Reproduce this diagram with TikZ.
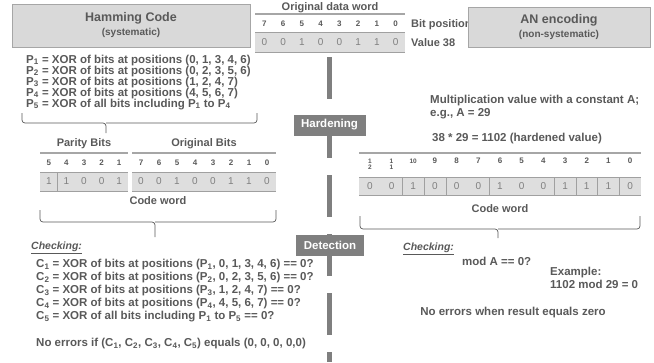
\documentclass[tikz,border=0pt]{standalone}
\usepackage{fontspec}
\setmainfont{Liberation Sans}
\definecolor{ink}{HTML}{595959}
\definecolor{boxfill}{HTML}{D9D9D9}
\definecolor{boxrule}{HTML}{A6A6A6}
\definecolor{barcol}{HTML}{7F7F7F}
\definecolor{cellfill}{HTML}{DEDEDE}
\definecolor{valink}{HTML}{808080}
\definecolor{rulecol}{HTML}{A0A0A0}
\newcommand\fsz[1]{\fontsize{#1}{#1}\selectfont}
\begin{document}
\begin{tikzpicture}[x=1pt,y=-1pt,
  txt/.style={text=ink, inner sep=0pt, font=\fsz{11.5}\bfseries, text height=8pt, text depth=2pt},
  lefttxt/.style={txt, anchor=west},
  hdr/.style={txt, font=\fsz{11}\bfseries},
  tbox/.style={draw=boxrule, fill=boxfill, line width=0.8pt, text=ink, align=center, inner sep=0pt, font=\bfseries},
  bitno/.style={text=ink, inner sep=0pt, font=\fsz{8}\bfseries},
  tinybit/.style={text=ink, inner sep=0pt, font=\fsz{6.5}\bfseries, align=center},
  bitval/.style={text=valink, inner sep=0pt, font=\fsz{10}},
  headrule/.style={draw=boxrule, line width=1.4pt},
  cellrule/.style={draw=rulecol, line width=0.7pt},
  cellsep/.style={draw=rulecol, line width=0.5pt},
  phase/.style={fill=barcol, text=white, font=\fsz{11.5}\bfseries, inner sep=0pt, minimum height=21pt},
  brace/.style={draw=ink, line width=0.7pt, rounded corners=3pt},
  chk/.style={text=ink, inner sep=0pt, anchor=west, font=\fsz{10.5}\bfseries\itshape, text height=8pt, text depth=3pt}
]
\useasboundingbox (0,0) rectangle (654,362);

% ---------- central dashed bar with phase labels ----------
\draw[barcol, line width=5pt, dash pattern=on 42pt off 17pt] (329.5,57) -- (329.5,362);
\node[phase, minimum width=72pt] (harden) at (329.5,125) {Hardening};
\node[phase, minimum width=68pt] (detect) at (330,245) {Detection};

% ---------- original data word ----------
\node[hdr] (odw) at (330,7) {Original data word};
\draw[headrule] (255,14) -- (405,14);
\fill[cellfill] (255,32) rectangle (405,52);
\draw[cellrule] (255,32) -- (405,32);
\draw[cellrule] (255,52) -- (405,52);
\foreach \b [count=\i] in {7,6,5,4,3,2,1,0}
  \node[bitno] (od-h\i) at ({255+18.75*(\i-0.5)},24) {\b};
\foreach \v [count=\i] in {0,0,1,0,0,1,1,0}
  \node[bitval] (od-v\i) at ({255+18.75*(\i-0.5)},42) {\v};
\node[lefttxt, font=\fsz{11}\bfseries] (bitpos) at (411,24) {Bit position};
\node[lefttxt, font=\fsz{11}\bfseries] (val38) at (411,43) {Value 38};

% ---------- title boxes ----------
\node[tbox, minimum width=238pt, minimum height=43pt] (ham) at (131,25.5)
  {{\fsz{12.5}Hamming Code}\\[2pt]{\fsz{10}(systematic)}};
\node[tbox, minimum width=182pt, minimum height=40pt] (an) at (559,27)
  {{\fsz{12.5}AN encoding}\\[2pt]{\fsz{10}(non-systematic)}};

% ---------- Hamming: parity equations ----------
\node[lefttxt] (p1) at (26,60) {P\textsubscript{1} = XOR of bits at positions (0, 1, 3, 4, 6)};
\node[lefttxt] (p2) at (26,71) {P\textsubscript{2} = XOR of bits at positions (0, 2, 3, 5, 6)};
\node[lefttxt] (p3) at (26,82) {P\textsubscript{3} = XOR of bits at positions (1, 2, 4, 7)};
\node[lefttxt] (p4) at (26,93) {P\textsubscript{4} = XOR of bits at positions (4, 5, 6, 7)};
\node[lefttxt] (p5) at (26,104) {P\textsubscript{5} = XOR of all bits including P\textsubscript{1} to P\textsubscript{4}};

\draw[brace] (22,113) -- (22,123) -- (106,123) -- (106,133);
\draw[brace] (257,113) -- (257,123) -- (106,123);

% ---------- Hamming: code word ----------
\node[hdr] (parhdr) at (84,143) {Parity Bits};
\node[hdr] (orghdr) at (204,143) {Original Bits};
\draw[headrule] (40,153) -- (128,153);
\draw[headrule] (132,153) -- (276,153);
\fill[cellfill] (40,172) rectangle (128,191);
\fill[cellfill] (132,172) rectangle (276,191);
\draw[cellrule] (40,172) -- (128,172) (132,172) -- (276,172);
\draw[cellrule] (40,191) -- (128,191) (132,191) -- (276,191);
\draw[cellsep] (57.6,172) -- (57.6,191);
\foreach \b [count=\i] in {5,4,3,2,1}
  \node[bitno] (hp-h\i) at ({40+17.6*(\i-0.5)},163) {\b};
\foreach \v [count=\i] in {1,1,0,0,1}
  \node[bitval] (hp-v\i) at ({40+17.6*(\i-0.5)},181.5) {\v};
\foreach \b [count=\i] in {7,6,5,4,3,2,1,0}
  \node[bitno] (ho-h\i) at ({132+18*(\i-0.5)},163) {\b};
\foreach \v [count=\i] in {0,0,1,0,0,1,1,0}
  \node[bitval] (ho-v\i) at ({132+18*(\i-0.5)},181.5) {\v};
\node[hdr] (hcw) at (158,201) {Code word};

\draw[brace] (40,210) -- (40,222) -- (155,222) -- (155,237);
\draw[brace] (276,210) -- (276,222) -- (155,222);

% ---------- Hamming: checking ----------
\node[chk] (chkL) at (31,247) {\underline{Checking:}};
\node[lefttxt] (c1) at (36,264.5) {C\textsubscript{1} = XOR of bits at positions (P\textsubscript{1}, 0, 1, 3, 4, 6) == 0?};
\node[lefttxt] (c2) at (36,277.5) {C\textsubscript{2} = XOR of bits at positions (P\textsubscript{2}, 0, 2, 3, 5, 6) == 0?};
\node[lefttxt] (c3) at (36,290.5) {C\textsubscript{3} = XOR of bits at positions (P\textsubscript{3}, 1, 2, 4, 7) == 0?};
\node[lefttxt] (c4) at (36,303.5) {C\textsubscript{4} = XOR of bits at positions (P\textsubscript{4}, 4, 5, 6, 7) == 0?};
\node[lefttxt] (c5) at (36,316.5) {C\textsubscript{5} = XOR of all bits including P\textsubscript{1} to P\textsubscript{5} == 0?};
\node[lefttxt] (noerrL) at (36,343.5) {No errors if (C\textsubscript{1}, C\textsubscript{2}, C\textsubscript{3}, C\textsubscript{4}, C\textsubscript{5}) equals (0, 0, 0, 0,0)};

% ---------- AN: hardening ----------
\node[lefttxt] (mul) at (430,100) {Multiplication value with a constant A;};
\node[lefttxt] (eg) at (430,113) {e.g., A = 29};
\node[txt] (prod) at (517,138) {38 * 29 = 1102 (hardened value)};

\draw[headrule] (359,153) -- (641,153);
\fill[cellfill] (359,177) rectangle (641,195);
\draw[cellrule] (359,177) -- (641,177);
\draw[cellrule] (359,195) -- (641,195);
\foreach \k in {2,3,4,6,9,10,11,12}
  \draw[cellsep] ({359+21.692*\k},177) -- ({359+21.692*\k},195);
\node[tinybit] (an-h1) at ({359+21.692*0.5},164.5) {1\\[-1pt]2};
\node[tinybit] (an-h2) at ({359+21.692*1.5},164.5) {1\\[-1pt]1};
\node[tinybit] (an-h3) at ({359+21.692*2.5},161) {10};
\foreach \b [count=\i from 4] in {9,8,7,6,5,4,3,2,1,0}
  \node[bitno] (an-h\i) at ({359+21.692*(\i-0.5)},161) {\b};
\foreach \v [count=\i] in {0,0,1,0,0,0,1,0,0,1,1,1,0}
  \node[bitval] (an-v\i) at ({359+21.692*(\i-0.5)},186) {\v};
\node[hdr] (ancw) at (500,209) {Code word};

\draw[brace] (360,216) -- (360,229) -- (498,229) -- (498,238);
\draw[brace] (640,216) -- (640,229) -- (498,229);

% ---------- AN: checking ----------
\node[chk] (chkR) at (403,248) {\underline{Checking:}};
\node[lefttxt] (modA) at (462,262) {mod A == 0?};
\node[lefttxt] (ex) at (550,272) {Example:};
\node[lefttxt] (exv) at (550,285) {1102 mod 29 = 0};
\node[txt] (noerrR) at (513,312) {No errors when result equals zero};
\end{tikzpicture}
\end{document}
